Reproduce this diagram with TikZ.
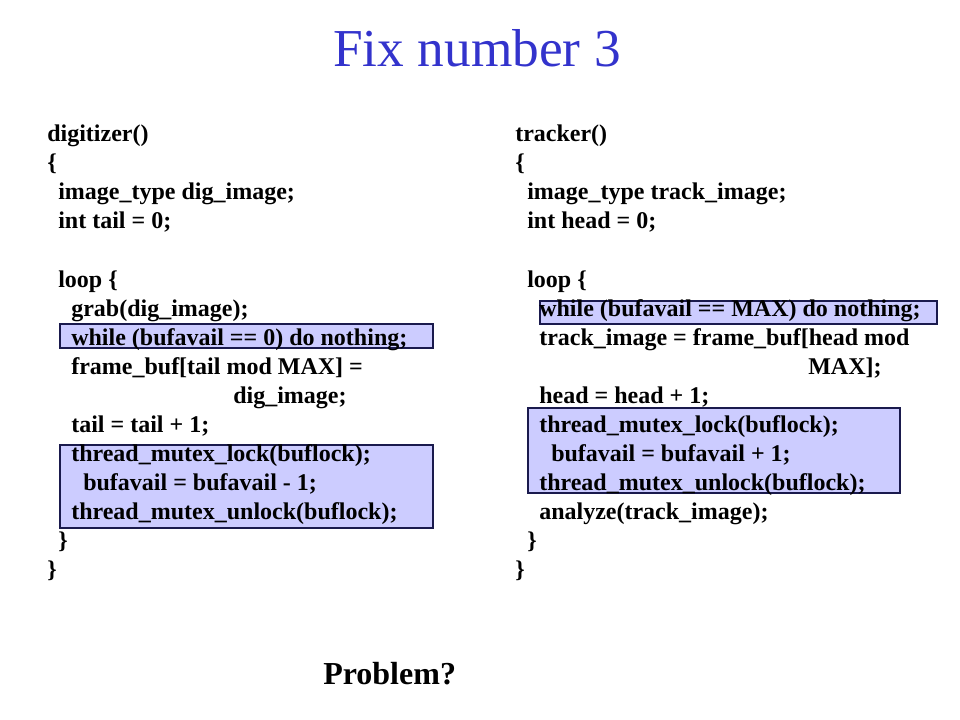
\documentclass[tikz,border=0pt]{standalone}
\usepackage{fontspec}
\setmainfont{Liberation Serif}
\usetikzlibrary{positioning}
\definecolor{titleblue}{HTML}{3333CC}
\definecolor{hifill}{HTML}{CCCCFF}
\definecolor{hiedge}{HTML}{1A1A4D}
\tikzstyle{code} = [anchor=base west, inner sep=0pt, font=\fontsize{18}{21.6}\selectfont\bfseries]
\tikzstyle{hibox} = [draw=hiedge, fill=hifill, line width=0.8pt]
\tikzstyle{slidetitle} = [anchor=base, inner sep=0pt, text=titleblue, font=\fontsize{40}{48}\selectfont]
\newcommand{\us}{\_}

\begin{document}
\begin{tikzpicture}[x=0.75pt, y=-0.75pt]
\useasboundingbox (0,0) rectangle (960,720);
\node[slidetitle] (title) at (477,67) {Fix number 3};

% highlighted critical parts
\draw[hibox] (60,324) rectangle (433,348);
\draw[hibox] (60,445) rectangle (433,528);
\draw[hibox] (540,301) rectangle (937,324);
\draw[hibox] (528,408) rectangle (900,493);

% digitizer
\node[code] (d1) at (47,142) {digitizer()};
\node[code] (d2) at (47,171) {\{};
\node[code] (d3) at (58,200) {image\us type dig\us image;};
\node[code] (d4) at (58,229) {int tail = 0;};
\node[code] (d5) at (58,287) {loop \{};
\node[code] (d6) at (71,316) {grab(dig\us image);};
\node[code] (d7) at (71,345) {while (bufavail == 0) do nothing;};
\node[code] (d8) at (71,374) {frame\us buf[tail mod MAX] =};
\node[code] (d9) at (233,403) {dig\us image;};
\node[code] (d10) at (71,432) {tail = tail + 1;};
\node[code] (d11) at (71,461) {thread\us mutex\us lock(buflock);};
\node[code] (d12) at (83,490) {bufavail = bufavail - 1;};
\node[code] (d13) at (71,519) {thread\us mutex\us unlock(buflock);};
\node[code] (d14) at (58,548) {\}};
\node[code] (d15) at (47,577) {\}};

% tracker
\node[code] (t1) at (515,142) {tracker()};
\node[code] (t2) at (515,171) {\{};
\node[code] (t3) at (527,200) {image\us type track\us image;};
\node[code] (t4) at (527,229) {int head = 0;};
\node[code] (t5) at (527,287) {loop \{};
\node[code] (t6) at (539,316) {while (bufavail == MAX) do nothing;};
\node[code] (t7) at (539,345) {track\us image = frame\us buf[head mod};
\node[code] (t8) at (808,374) {MAX];};
\node[code] (t9) at (539,403) {head = head + 1;};
\node[code] (t10) at (539,432) {thread\us mutex\us lock(buflock);};
\node[code] (t11) at (551,461) {bufavail = bufavail + 1;};
\node[code] (t12) at (539,490) {thread\us mutex\us unlock(buflock);};
\node[code] (t13) at (539,519) {analyze(track\us image);};
\node[code] (t14) at (527,548) {\}};
\node[code] (t15) at (515,577) {\}};

\node[code, font=\fontsize{24}{28}\selectfont\bfseries] (problem) at (323,684) {Problem?};
\end{tikzpicture}
\end{document}
